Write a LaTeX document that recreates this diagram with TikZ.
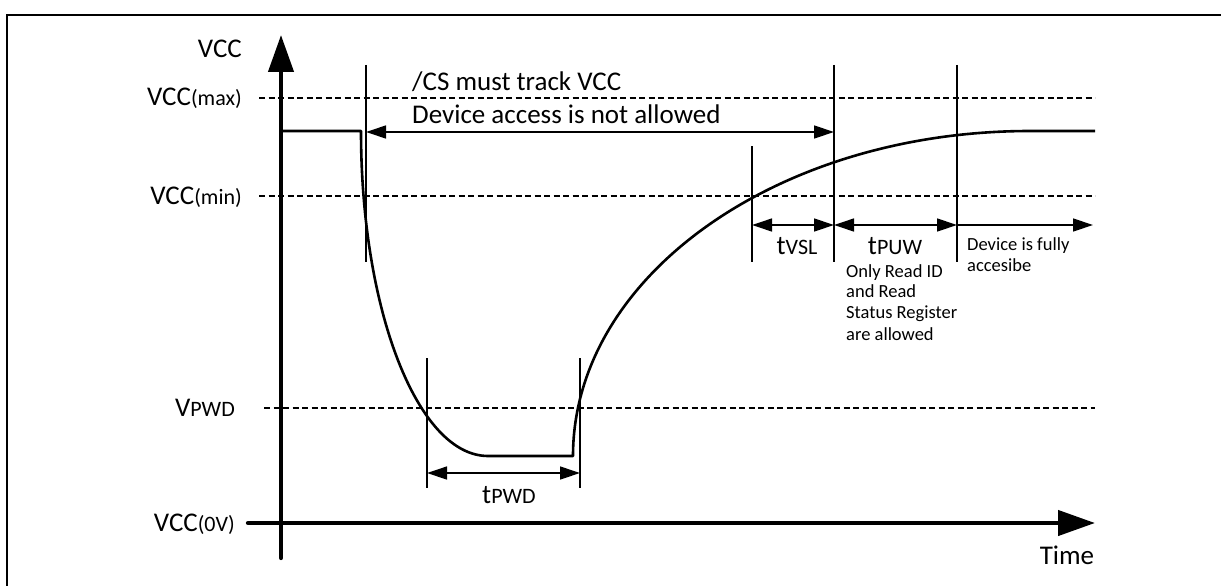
\documentclass[tikz,border=0pt]{standalone}
\usepackage{fontspec}
\setmainfont{Carlito}
\usetikzlibrary{arrows.meta}
\newcommand\smf[1]{{\fontsize{22}{22}\selectfont #1}}
\begin{document}
\begin{tikzpicture}[x=1pt,y=-1pt,
  lbl/.style={inner sep=0pt, font=\fontsize{27}{27}\selectfont},
  note/.style={inner sep=0pt, font=\fontsize{18.5}{18.5}\selectfont, anchor=base west},
  axisline/.style={line width=4.3pt, line cap=round, -{Triangle[length=37pt,width=25pt]}},
  gridline/.style={line width=1.2pt, dash pattern=on 6pt off 3.5pt},
  sig/.style={line width=2.6pt, line join=round},
  tickline/.style={line width=1.2pt},
  dimboth/.style={line width=1.3pt, {Triangle[length=20pt,width=13pt]}-{Triangle[length=20pt,width=13pt]}},
  dimright/.style={line width=1.3pt, -{Triangle[length=20pt,width=13pt]}},
  framel/.style={line width=2.6pt}
]
\useasboundingbox (0,0) rectangle (1221,586);
% frame
\coordinate (fbl) at (7,586);
\coordinate (ftl) at (7,15);
\coordinate (ftr) at (1221,15);
\draw[framel] (fbl) -- (ftl) -- (ftr);

% grid lines
\coordinate (gmaxL) at (259,98);  \coordinate (gmaxR) at (1095,98);
\coordinate (gminL) at (259,196); \coordinate (gminR) at (1095,196);
\coordinate (gpwdL) at (264,408); \coordinate (gpwdR) at (1095,408);
\draw[gridline] (gmaxL) -- (gmaxR);
\draw[gridline] (gminL) -- (gminR);
\draw[gridline] (gpwdL) -- (gpwdR);

% axes
\coordinate (yb) at (281,558); \coordinate (yt) at (281,35);
\coordinate (xl) at (248,523); \coordinate (xr) at (1095,523);
\draw[axisline] (yb) -- (yt);
\draw[axisline] (xl) -- (xr);

% signal
\coordinate (s0) at (281,131);
\coordinate (s1) at (361,131);
\coordinate (s2) at (573,456);
\coordinate (s3) at (1095,131);
\draw[sig] (s0) -- (s1) arc[start angle=180, end angle=90, x radius=127, y radius=325]
  -- (s2) arc[start angle=180, end angle=270, x radius=457, y radius=325] -- (s3);

% vertical marker lines
\coordinate (m1t) at (366,65);  \coordinate (m1b) at (366,262);
\coordinate (m2t) at (834,65);  \coordinate (m2b) at (834,262);
\coordinate (m3t) at (957,65);  \coordinate (m3b) at (957,262);
\coordinate (m4t) at (752,146); \coordinate (m4b) at (752,262);
\coordinate (m5t) at (427,358); \coordinate (m5b) at (427,488);
\coordinate (m6t) at (580,358); \coordinate (m6b) at (580,488);
\foreach \m in {m1,m2,m3,m4,m5,m6} {\draw[tickline] (\m t) -- (\m b);}

% dimension arrows
\coordinate (d1a) at (366,132); \coordinate (d1b) at (834,132);
\coordinate (d2a) at (752,225); \coordinate (d2b) at (834,225);
\coordinate (d3b) at (957,225); \coordinate (d4b) at (1093,225);
\coordinate (d5a) at (427,473); \coordinate (d5b) at (580,473);
\draw[dimboth] (d1a) -- (d1b);
\draw[dimboth] (d2a) -- (d2b);
\draw[dimboth] (d2b) -- (d3b);
\draw[dimright] (d3b) -- (d4b);
\draw[dimboth] (d5a) -- (d5b);

% labels
\node[lbl, anchor=base east] (vcc) at (242,58) {VCC};
\node[lbl, anchor=base east] (vmax) at (242,106) {VCC\smf{(max)}};
\node[lbl, anchor=base east] (vmin) at (242,204) {VCC\smf{(min)}};
\node[lbl, anchor=base east] (vpwd) at (235,416) {V\smf{PWD}};
\node[lbl, anchor=base east] (vzero) at (235,531) {VCC\smf{(0V)}};
\node[lbl, anchor=base] (time) at (1067,564) {Time};
\node[lbl, anchor=base west] (cs) at (412,90) {/CS must track VCC};
\node[lbl, anchor=base west] (dna) at (412,123) {Device access is not allowed};
\node[lbl, anchor=base] (tpwd) at (509,503) {t\smf{PWD}};
\node[lbl, anchor=base] (tvsl) at (797,254) {t\smf{VSL}};
\node[lbl, anchor=base] (tpuw) at (895,254) {t\smf{PUW}};
\node[note] (n1) at (846,277) {Only Read ID};
\node[note] (n2) at (846,297) {and Read};
\node[note] (n3) at (846,318) {Status Register};
\node[note] (n4) at (846,340) {are allowed};
\node[note] (f1) at (967,250) {Device is fully};
\node[note] (f2) at (967,271) {accesibe};
\end{tikzpicture}
\end{document}
